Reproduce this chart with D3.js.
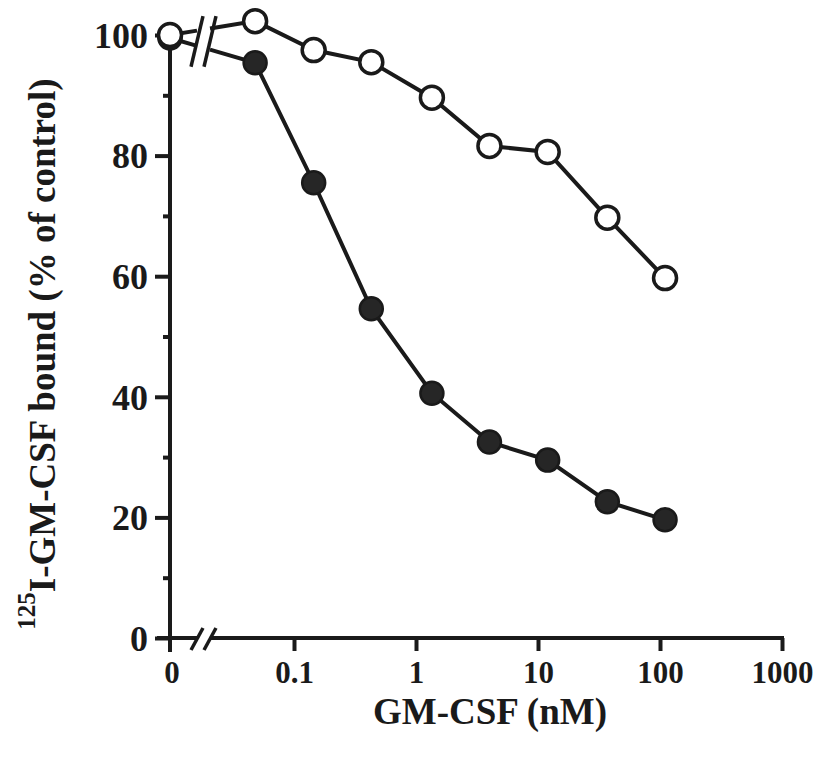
<!DOCTYPE html>
<html>
<head>
<meta charset="utf-8">
<script src="https://cdn.jsdelivr.net/npm/d3@7"></script>
<style>
  body { margin: 0; background: #fff; }
  svg text { font-family: "Liberation Serif", "Times New Roman", serif; font-weight: bold; fill: #1a1a1a; }
</style>
</head>
<body>
<svg id="chart" width="820" height="757"></svg>
<script>
// data
var conc = [0.048, 0.145, 0.43, 1.35, 4.0, 12, 37, 110];
var zeroFilled = 99.5;
var zeroOpen = 100;
var filledVals = [95.4, 75.5, 54.6, 40.6, 32.5, 29.5, 22.6, 19.6];
var openVals = [102.3, 97.5, 95.5, 89.6, 81.6, 80.6, 69.7, 59.7];
var yTicks = [0, 20, 40, 60, 80, 100];
var yMinor = [10, 30, 50, 70, 90];
var xTicks = [0.1, 1, 10, 100, 1000];
var xTickLabels = ["0.1", "1", "10", "100", "1000"];

var ink = "#1a1a1a";
var svg = d3.select("#chart");

var x = d3.scaleLog().domain([0.1, 1000]).range([294, 782]);
var y = d3.scaleLinear().domain([0, 100]).range([638, 35]);
var x0 = 170;           // position of the "0" dose
var bx1 = 197, bx2 = 210; // axis break

var lw = 4;

// y axis
var yAxis = svg.append("g").attr("transform", "translate(" + x0 + ",0)")
    .call(d3.axisLeft(y).tickValues(yTicks).tickSize(15).tickSizeOuter(0).tickPadding(8));
yAxis.select(".domain").remove();
yAxis.selectAll(".tick line").attr("stroke", ink).attr("stroke-width", lw);
yAxis.selectAll(".tick text").attr("font-size", 36).attr("dy", "0.34em").attr("x", -22).attr("fill", ink);

var yMinorAxis = svg.append("g").attr("transform", "translate(" + x0 + ",0)")
    .call(d3.axisLeft(y).tickValues(yMinor).tickSize(7).tickFormat(""));
yMinorAxis.select(".domain").remove();
yMinorAxis.selectAll(".tick line").attr("stroke", ink).attr("stroke-width", lw);

svg.append("line")
    .attr("x1", x0).attr("x2", x0)
    .attr("y1", y(100)).attr("y2", y(0) + 14)
    .attr("stroke", ink).attr("stroke-width", lw);

// x axis
var xAxis = svg.append("g").attr("transform", "translate(0," + y(0) + ")")
    .call(d3.axisBottom(x).tickValues(xTicks).tickSize(13).tickSizeOuter(0)
        .tickFormat(function(d, i) { return xTickLabels[i]; }));
xAxis.select(".domain").remove();
xAxis.selectAll(".tick line").attr("stroke", ink).attr("stroke-width", lw);
xAxis.selectAll(".tick text").attr("font-size", 31).attr("y", 23).attr("dy", "0.71em").attr("fill", ink);

svg.append("text")
    .attr("x", x0 + 2).attr("y", y(0) + 23).attr("dy", "0.71em")
    .attr("text-anchor", "middle").attr("font-size", 31)
    .text("0");

svg.append("line").attr("x1", 157).attr("x2", bx1).attr("y1", y(0)).attr("y2", y(0))
    .attr("stroke", ink).attr("stroke-width", lw);
svg.append("line").attr("x1", bx2).attr("x2", x(1000) + 2).attr("y1", y(0)).attr("y2", y(0))
    .attr("stroke", ink).attr("stroke-width", lw);
[bx1, bx2].forEach(function(bx) {
  svg.append("line")
      .attr("x1", bx - 6).attr("y1", y(0) + 12)
      .attr("x2", bx + 6).attr("y2", y(0) - 10)
      .attr("stroke", ink).attr("stroke-width", 3.5);
});

// series lines
function drawSeries(zeroVal, vals) {
  var pts = conc.map(function(c, i) { return [x(c), y(vals[i])]; });
  var p0 = [x0, y(zeroVal)];
  var p1 = pts[0];
  function at(px) {
    var t = (px - p0[0]) / (p1[0] - p0[0]);
    return [px, p0[1] + t * (p1[1] - p0[1])];
  }
  var line = d3.line();
  svg.append("path").attr("d", line([p0, at(bx1)]))
      .attr("fill", "none").attr("stroke", ink).attr("stroke-width", lw);
  svg.append("path").attr("d", line([at(bx2)].concat(pts)))
      .attr("fill", "none").attr("stroke", ink).attr("stroke-width", lw);
  return [p0].concat(pts);
}

var filledPts = drawSeries(zeroFilled, filledVals);
var openPts = drawSeries(zeroOpen, openVals);

// break marks across the data lines
var bTop = y(d3.max([zeroOpen, openVals[0]])) - 5;
var bBot = y(d3.min([zeroFilled, filledVals[0]])) + 4;
[bx1, bx2].forEach(function(bx) {
  svg.append("line")
      .attr("x1", bx - 6).attr("y1", bBot)
      .attr("x2", bx + 6).attr("y2", bTop)
      .attr("stroke", ink).attr("stroke-width", 3.5);
});

svg.selectAll("circle.filled").data(filledPts).enter().append("circle")
    .attr("class", "filled")
    .attr("cx", function(d) { return d[0]; }).attr("cy", function(d) { return d[1]; })
    .attr("r", 11.5).attr("fill", "#262626").attr("stroke", ink).attr("stroke-width", 2.5);

svg.selectAll("circle.open").data(openPts).enter().append("circle")
    .attr("class", "open")
    .attr("cx", function(d) { return d[0]; }).attr("cy", function(d) { return d[1]; })
    .attr("r", 11.5).attr("fill", "#fff").attr("stroke", ink).attr("stroke-width", 3.5);

// axis titles
svg.append("text")
    .attr("x", 490).attr("y", 724)
    .attr("text-anchor", "middle").attr("font-size", 37)
    .text("GM-CSF (nM)");

var yTitle = svg.append("text")
    .attr("transform", "translate(55,354) rotate(-90)")
    .attr("text-anchor", "middle").attr("font-size", 37);
yTitle.append("tspan").attr("font-size", 25).attr("dy", -20).text("125");
yTitle.append("tspan").attr("dy", 20).text("I-GM-CSF bound (% of control)");
</script>
</body>
</html>
